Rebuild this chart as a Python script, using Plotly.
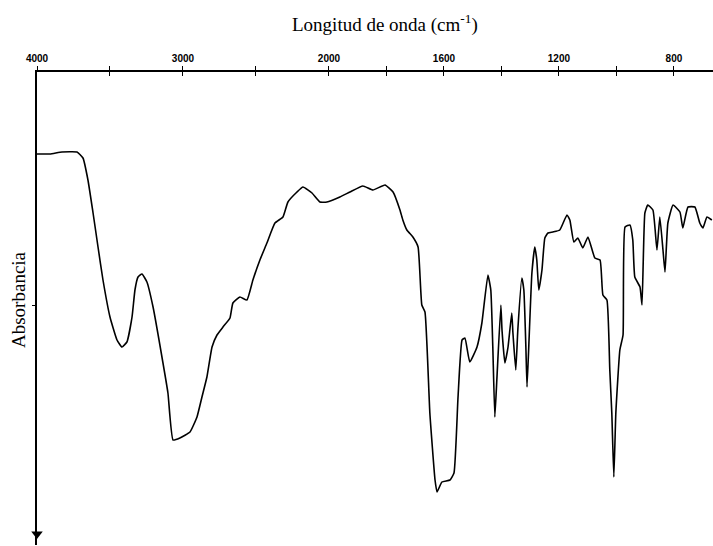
import plotly.graph_objects as go

# Wavenumber (cm-1) and absorbance (arbitrary units, increasing downward)
wavenumber = [4000, 3911, 3829, 3726, 3685, 3651, 3616, 3582, 3548, 3500,
              3452, 3418, 3384, 3349, 3329, 3308, 3281, 3247, 3205, 3137,
              3103, 3068, 3021, 2952, 2904, 2870, 2836, 2801, 2767, 2726,
              2678, 2658, 2610, 2562, 2521, 2473, 2425, 2370, 2315, 2281,
              2219, 2178, 2116, 2062, 2014, 1962, 1927, 1882, 1847, 1805,
              1777, 1753, 1743, 1729, 1708, 1690, 1677, 1666, 1649, 1631,
              1624, 1607, 1579, 1565, 1551, 1537, 1527, 1510, 1485, 1468,
              1447, 1437, 1430, 1423, 1416, 1402, 1398, 1388, 1377, 1364,
              1360, 1350, 1343, 1329, 1322, 1315, 1311, 1304, 1294, 1284,
              1277, 1270, 1259, 1249, 1238, 1221, 1197, 1172, 1162, 1148,
              1134, 1117, 1099, 1075, 1057, 1047, 1033, 1023, 1016, 1009,
              1002, 988, 977, 970, 953, 943, 936, 918, 911, 901,
              891, 873, 859, 849, 838, 831, 821, 803, 779, 769,
              751, 727, 710, 699, 685, 668]
absorbance = [0.82, 0.82, 0.80, 0.80, 0.86, 1.08, 1.41, 1.75, 2.08, 2.45,
              2.68, 2.75, 2.70, 2.45, 2.18, 2.05, 2.02, 2.10, 2.35, 2.91,
              3.21, 3.68, 3.66, 3.60, 3.45, 3.25, 3.05, 2.75, 2.63, 2.55,
              2.46, 2.31, 2.25, 2.28, 2.08, 1.88, 1.71, 1.51, 1.45, 1.30,
              1.20, 1.15, 1.21, 1.30, 1.30, 1.25, 1.20, 1.14, 1.18, 1.13,
              1.20, 1.38, 1.48, 1.58, 1.65, 1.75, 2.33, 2.40, 3.41, 4.08,
              4.20, 4.10, 4.08, 4.01, 3.25, 2.68, 2.66, 2.90, 2.75, 2.51,
              2.03, 2.18, 2.75, 3.45, 3.08, 2.33, 2.58, 2.91, 2.75, 2.41,
              2.61, 2.98, 2.58, 2.06, 2.18, 2.75, 3.15, 2.68, 2.01, 1.75,
              1.88, 2.18, 1.98, 1.66, 1.61, 1.60, 1.58, 1.43, 1.48, 1.70,
              1.66, 1.76, 1.65, 1.86, 1.88, 2.23, 2.28, 2.98, 3.41, 4.05,
              3.41, 2.78, 2.63, 1.55, 1.53, 1.68, 2.05, 2.15, 2.33, 1.41,
              1.33, 1.38, 1.78, 1.45, 1.78, 2.00, 1.51, 1.33, 1.40, 1.56,
              1.35, 1.35, 1.51, 1.56, 1.45, 1.48]

major_wn = [4000, 3000, 2000, 1600, 1200, 800]
major_labels = ["4000", "3000", "2000", "1600", "1200", "800"]
minor_wn = [3500, 2500, 1800, 1400, 1000]
wn_min = 664
abs_tick = [2.33]
abs_max = 4.73


def wn_to_pos(w):
    # IR chart scale: 4000-2000 compressed, below 2000 expanded
    if w >= 2000:
        return (4000 - w) * 0.146
    return 292 + (2000 - w) * 0.2875


xpos = [wn_to_pos(w) for w in wavenumber]
major_pos = [wn_to_pos(w) for w in major_wn]
minor_pos = [wn_to_pos(w) for w in minor_wn]
all_pos = sorted(major_pos + minor_pos)

fig = go.Figure()
fig.add_trace(go.Scatter(x=xpos, y=absorbance, mode="lines",
                         line=dict(color="black", width=1.6, shape="spline", smoothing=0.4),
                         showlegend=False, hoverinfo="skip"))
# arrowhead at the bottom of the absorbance axis
fig.add_trace(go.Scatter(x=[0], y=[abs_max - 0.11], mode="markers", cliponaxis=False,
                         marker=dict(symbol="triangle-down", size=10, color="black"),
                         showlegend=False, hoverinfo="skip"))
# overlay trace for inside ticks on the top axis
fig.add_trace(go.Scatter(x=[0], y=[0], xaxis="x2", mode="markers",
                         marker=dict(opacity=0), showlegend=False, hoverinfo="skip"))

tick_font = dict(family="Liberation Sans", size=10, color="black", weight="bold")
fig.update_layout(
    width=713, height=546,
    margin=dict(l=37, r=0, t=72, b=1),
    paper_bgcolor="white", plot_bgcolor="white",
    xaxis=dict(side="top", range=[0, wn_to_pos(wn_min)], showgrid=False, zeroline=False,
               showline=True, linecolor="black", linewidth=1.5,
               ticks="outside", ticklen=4, tickwidth=1.2, tickcolor="black",
               tickvals=major_pos, ticktext=major_labels, tickfont=tick_font,
               minor=dict(tickvals=minor_pos, ticks="outside", ticklen=4, tickwidth=1.2,
                          tickcolor="black", showgrid=False)),
    xaxis2=dict(overlaying="x", side="top", matches="x", showgrid=False, zeroline=False,
                showline=False, ticks="inside", ticklen=4, tickwidth=1.2, tickcolor="black",
                tickvals=all_pos, showticklabels=False),
    yaxis=dict(range=[abs_max, 0], showgrid=False, zeroline=False,
               showline=True, linecolor="black", linewidth=1.5,
               ticks="outside", ticklen=3, tickwidth=1.2, tickcolor="black",
               tickvals=abs_tick, showticklabels=False),
    annotations=[
        dict(text="Longitud de onda (cm<sup>-1</sup>)", xref="paper", yref="paper",
             x=(385 - 37) / 676, y=(545 - 24) / 473, yanchor="middle", xanchor="center",
             showarrow=False, font=dict(family="Liberation Serif", size=19, color="black")),
        dict(text="Absorbancia", xref="paper", yref="paper",
             x=-19 / 676, y=(545 - 300) / 473, textangle=-90,
             xanchor="center", yanchor="middle", showarrow=False,
             font=dict(family="Liberation Serif", size=19, color="black")),
    ],
)

fig.write_html("out.html")
